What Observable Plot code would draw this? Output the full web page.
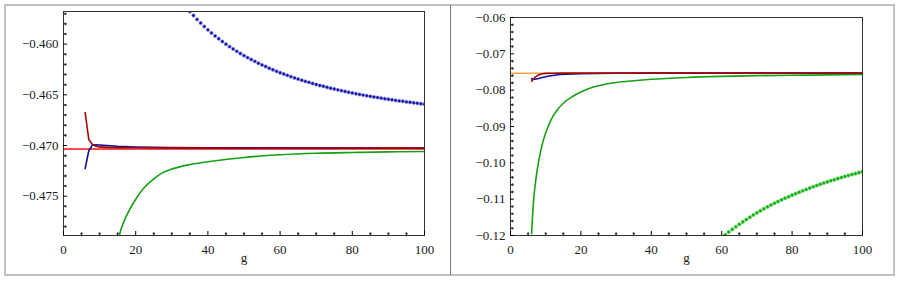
<!DOCTYPE html>
<html><head><meta charset="utf-8">
<script src="https://cdn.jsdelivr.net/npm/d3@7"></script>
<script src="https://cdn.jsdelivr.net/npm/@observablehq/plot@0.6"></script>
<style>
body{margin:0;background:#fff;}
#wrap{position:relative;width:901px;height:281px;overflow:hidden;background:#fff;}
#wrap svg{position:absolute;top:0;}
.box{position:absolute;pointer-events:none;box-sizing:border-box;z-index:5;}
</style></head><body>
<div id="wrap"></div>
<script>
// ---------- shared axis data ----------
const xLabel = "g";
const xTicks = [0, 20, 40, 60, 80, 100];
const xTickLabels = ["0", "20", "40", "60", "80", "100"];
const xMinor = [5, 10, 15, 25, 30, 35, 45, 50, 55, 65, 70, 75, 85, 90, 95];

// ---------- left panel ----------
const leftYTicks = [-0.475, -0.470, -0.465, -0.460];
const leftYTickLabels = ["\u22120.475", "\u22120.470", "\u22120.465", "\u22120.460"];
const leftYMinor = [-0.478, -0.477, -0.476, -0.474, -0.473, -0.472, -0.471, -0.469, -0.468, -0.467, -0.466, -0.464, -0.463, -0.462, -0.461, -0.459, -0.458, -0.457];

const leftRedG = [0, 100];
const leftRedV = [-0.47034, -0.47034];

const leftDarkRedG = [6, 7, 8, 9, 10, 12, 15, 20, 30, 50, 100];
const leftDarkRedV = [-0.46675, -0.4694, -0.4699, -0.47007, -0.47014, -0.47019, -0.47021, -0.47022, -0.47023, -0.47024, -0.47024];

const leftBlueG = [6, 7, 8, 9, 10, 12, 15, 20, 25, 30, 40, 100];
const leftBlueV = [-0.47227, -0.47052, -0.46996, -0.46992, -0.46995, -0.47001, -0.47008, -0.47015, -0.47019, -0.47021, -0.47023, -0.47024];

const leftGreenG = [15, 16, 17.5, 20, 22.5, 25, 27.5, 30, 35, 40, 50, 60, 70, 80, 90, 100];
const leftGreenV = [-0.4795, -0.4782, -0.4769, -0.4753, -0.4741, -0.4733, -0.47268, -0.47232, -0.47188, -0.4716, -0.47118, -0.47092, -0.47077, -0.47069, -0.47063, -0.47059];

const leftDotsG = [35,36,37,38,39,40,41,42,43,44,45,46,47,48,49,50,51,52,53,54,55,56,57,58,59,60,61,62,63,64,65,66,67,68,69,70,71,72,73,74,75,76,77,78,79,80,81,82,83,84,85,86,87,88,89,90,91,92,93,94,95,96,97,98,99,100];
const leftDotsV = [-0.45678,-0.45718,-0.45756,-0.45792,-0.45826,-0.45859,-0.45890,-0.45919,-0.45947,-0.45974,-0.46000,-0.46025,-0.46048,-0.46071,-0.46092,-0.46113,-0.46133,-0.46152,-0.46170,-0.46188,-0.46205,-0.46221,-0.46238,-0.46252,-0.46268,-0.46282,-0.46295,-0.46308,-0.46321,-0.46333,-0.46345,-0.46356,-0.46367,-0.46377,-0.46388,-0.46398,-0.46408,-0.46416,-0.46426,-0.46435,-0.46443,-0.46451,-0.46459,-0.46467,-0.46475,-0.46482,-0.46489,-0.46496,-0.46503,-0.46509,-0.46515,-0.46522,-0.46527,-0.46533,-0.46539,-0.46544,-0.46549,-0.46555,-0.46560,-0.46564,-0.46570,-0.46574,-0.46579,-0.46583,-0.46588,-0.46592];

// ---------- right panel ----------
const rightYTicks = [-0.12, -0.11, -0.10, -0.09, -0.08, -0.07, -0.06];
const rightYTickLabels = ["\u22120.12", "\u22120.11", "\u22120.10", "\u22120.09", "\u22120.08", "\u22120.07", "\u22120.06"];
const rightYMinor = [-0.118,-0.116,-0.114,-0.112,-0.108,-0.106,-0.104,-0.102,-0.098,-0.096,-0.094,-0.092,-0.088,-0.086,-0.084,-0.082,-0.078,-0.076,-0.074,-0.072,-0.068,-0.066,-0.064,-0.062];

const rightOrangeG = [0, 100];
const rightOrangeV = [-0.07533, -0.07533];

const rightDarkRedG = [6, 7, 8, 9, 10, 12, 15, 100];
const rightDarkRedV = [-0.07753, -0.07643, -0.07580, -0.07550, -0.07538, -0.07533, -0.07531, -0.07530];

const rightBlueG = [6, 7, 8, 9, 10, 11, 12, 14, 16, 20, 25, 30, 40, 100];
const rightBlueV = [-0.0769, -0.0770, -0.0768, -0.0765, -0.0763, -0.0761, -0.07595, -0.0757, -0.0756, -0.07547, -0.0754, -0.07535, -0.07532, -0.0753];

const rightGreenG = [6, 6.5, 7, 7.5, 8, 9, 10, 11, 12, 13, 15, 17.5, 20, 22.5, 25, 30, 35, 40, 50, 60, 70, 80, 90, 100];
const rightGreenV = [-0.1195, -0.1110, -0.1062, -0.1025, -0.0996, -0.0950, -0.0918, -0.0893, -0.0873, -0.0858, -0.0836, -0.0818, -0.0805, -0.0795, -0.0788, -0.0779, -0.0774, -0.0770, -0.0765, -0.0762, -0.0760, -0.0759, -0.0758, -0.0757];

const rightDotsG = [60,61,62,63,64,65,66,67,68,69,70,71,72,73,74,75,76,77,78,79,80,81,82,83,84,85,86,87,88,89,90,91,92,93,94,95,96,97,98,99,100];
const rightDotsV = [-0.1206,-0.1198,-0.11905,-0.11832,-0.11761,-0.11692,-0.11625,-0.11560,-0.11497,-0.11436,-0.11377,-0.11320,-0.11265,-0.11212,-0.11161,-0.11112,-0.11065,-0.11019,-0.10975,-0.10932,-0.10890,-0.10849,-0.10809,-0.10770,-0.10732,-0.10695,-0.10659,-0.10624,-0.10590,-0.10557,-0.10525,-0.10494,-0.10464,-0.10434,-0.10405,-0.10377,-0.10349,-0.10322,-0.10296,-0.10270,-0.10245];

// ---------- helpers ----------
const rows = (gs, vs) => gs.map((g, i) => ({g, v: vs[i]}));
const FONT = "Liberation Serif";
const FS = 13;
const C = {
  green: "#15a015", blue: "#10109c", darkred: "#a00808", red: "#ff1010", orange: "#ffa040",
  greenDot: "#10b010", blueDot: "#1212a8", frame: "#333333", text: "#1a1a1a"
};

function panel({width, mL, mR, mT, mB, yDomain, yTicks, yLabels, yMinor, marks}) {
  return Plot.plot({
    width, height: 281,
    marginLeft: mL, marginRight: mR, marginTop: mT, marginBottom: mB,
    x: {domain: [0, 100]},
    y: {domain: yDomain},
    marks: [
      ...marks,
      Plot.frame({stroke: C.frame}),
      // minor ticks, drawn inward from the frame
      Plot.vector(xMinor, {x: d => d, y: yDomain[0], length: 2.5, rotate: 0, anchor: "start", stroke: C.frame}),
      Plot.vector(yMinor, {x: 0, y: d => d, length: 2.5, rotate: 90, anchor: "start", stroke: C.frame}),
      // major ticks and labels
      Plot.axisX({ticks: xTicks, tickSize: -4, tickPadding: 13, tickFormat: d => xTickLabels[xTicks.indexOf(d)], label: null, fill: C.text, fontSize: FS, fontFamily: FONT}),
      Plot.axisY({ticks: yTicks, tickSize: -4, tickPadding: 9, tickFormat: d => yLabels[yTicks.indexOf(d)], label: null, fill: C.text, fontSize: FS, fontFamily: FONT}),
      Plot.text([xLabel], {frameAnchor: "bottom", dy: 26, fill: C.text, fontSize: FS, fontFamily: FONT})
    ]
  });
}

const left = panel({
  width: 450, mL: 63, mR: 26, mT: 11, mB: 46,
  yDomain: [-0.47888, -0.45678],
  yTicks: leftYTicks, yLabels: leftYTickLabels, yMinor: leftYMinor,
  marks: [
    Plot.line(rows(leftRedG, leftRedV), {x: "g", y: "v", stroke: C.red, strokeWidth: 1.6, clip: true}),
    Plot.line(rows(leftGreenG, leftGreenV), {x: "g", y: "v", stroke: C.green, strokeWidth: 1.6, curve: "monotone-x", clip: true}),
    Plot.line(rows(leftBlueG, leftBlueV), {x: "g", y: "v", stroke: C.blue, strokeWidth: 1.6, clip: true}),
    Plot.line(rows(leftDarkRedG, leftDarkRedV), {x: "g", y: "v", stroke: C.darkred, strokeWidth: 1.6, clip: true}),
    Plot.dot(rows(leftDotsG, leftDotsV), {x: "g", y: "v", r: 1.7, fill: C.blueDot, stroke: "#8c8ce0", strokeWidth: 0.6, clip: true})
  ]
});

const right = panel({
  width: 451, mL: 60, mR: 39, mT: 17, mB: 46,
  yDomain: [-0.12, -0.06],
  yTicks: rightYTicks, yLabels: rightYTickLabels, yMinor: rightYMinor,
  marks: [
    Plot.line(rows(rightOrangeG, rightOrangeV), {x: "g", y: "v", stroke: C.orange, strokeWidth: 1.6, clip: true}),
    Plot.line(rows(rightGreenG, rightGreenV), {x: "g", y: "v", stroke: C.green, strokeWidth: 1.6, curve: "monotone-x", clip: true}),
    Plot.line(rows(rightBlueG, rightBlueV), {x: "g", y: "v", stroke: C.blue, strokeWidth: 1.6, clip: true}),
    Plot.line(rows(rightDarkRedG, rightDarkRedV), {x: "g", y: "v", stroke: C.darkred, strokeWidth: 1.6, clip: true}),
    Plot.dot(rows(rightDotsG, rightDotsV), {x: "g", y: "v", r: 1.8, fill: C.greenDot, stroke: "#80d880", strokeWidth: 0.6, clip: true})
  ]
});

const wrap = document.getElementById("wrap");
left.style.left = "0px";
right.style.left = "450px";
wrap.appendChild(left);
wrap.appendChild(right);

const outer = document.createElement("div");
outer.className = "box";
Object.assign(outer.style, {left: "4px", top: "4px", width: "891px", height: "272px", border: "2px solid #c2c2c2"});
wrap.appendChild(outer);
const divider = document.createElement("div");
divider.className = "box";
Object.assign(divider.style, {left: "450px", top: "5px", width: "1px", height: "270px", background: "#7a7a7a"});
wrap.appendChild(divider);
</script>
</body></html>
